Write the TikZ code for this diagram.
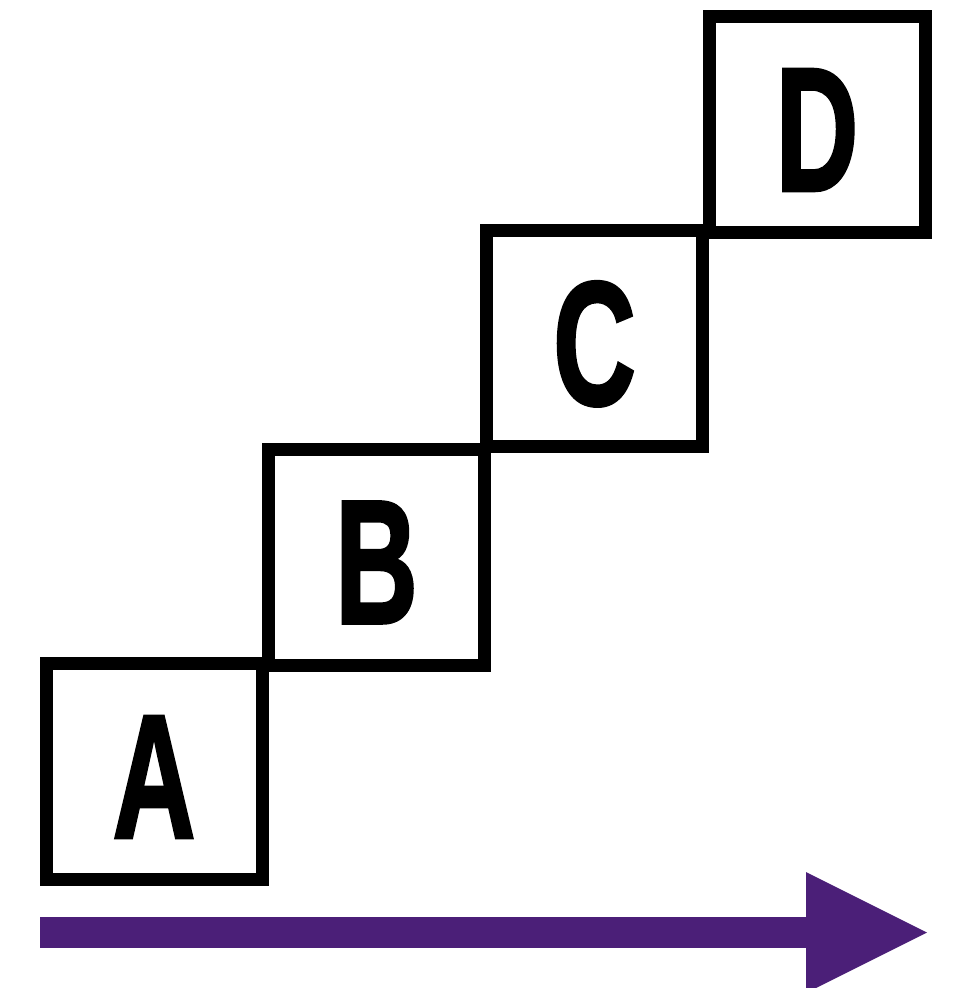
\documentclass[tikz,border=0pt]{standalone}
\usepackage{fontspec}
\usetikzlibrary{arrows.meta}
\newfontfamily\letterfont{Liberation Sans Bold}[FakeBold=2]
\definecolor{arrowpurple}{RGB}{75,31,120}
\begin{document}
\begin{tikzpicture}[x=1pt,y=-1pt,
  stepbox/.style={draw=black, line width=13pt, minimum size=216pt, inner sep=0pt,
    text height=132pt, text depth=0pt,
    font=\letterfont\fontsize{176}{176}\selectfont},
  progress/.style={draw=arrowpurple, line width=31pt,
    -{Triangle[length=121pt,width=121pt,line width=0pt]}},
]
\useasboundingbox (0,0) rectangle (953,988);
\clip (0,0) rectangle (953,988);

% staircase of boxes
\node[stepbox] (A) at (154,771.5) {\scalebox{0.65}[1]{A}};
\node[stepbox] (B) at (376.5,557) {\scalebox{0.65}[1]{B}};
\node[stepbox] (C) at (594.5,338.5) {\scalebox{0.65}[1]{C}};
\node[stepbox] (D) at (817,124.5) {\scalebox{0.65}[1]{D}};

% progress arrow along the bottom
\coordinate (start) at (40,932.5);
\coordinate (finish) at (927,932.5);
\draw[progress] (start) -- (finish);
\end{tikzpicture}
\end{document}
